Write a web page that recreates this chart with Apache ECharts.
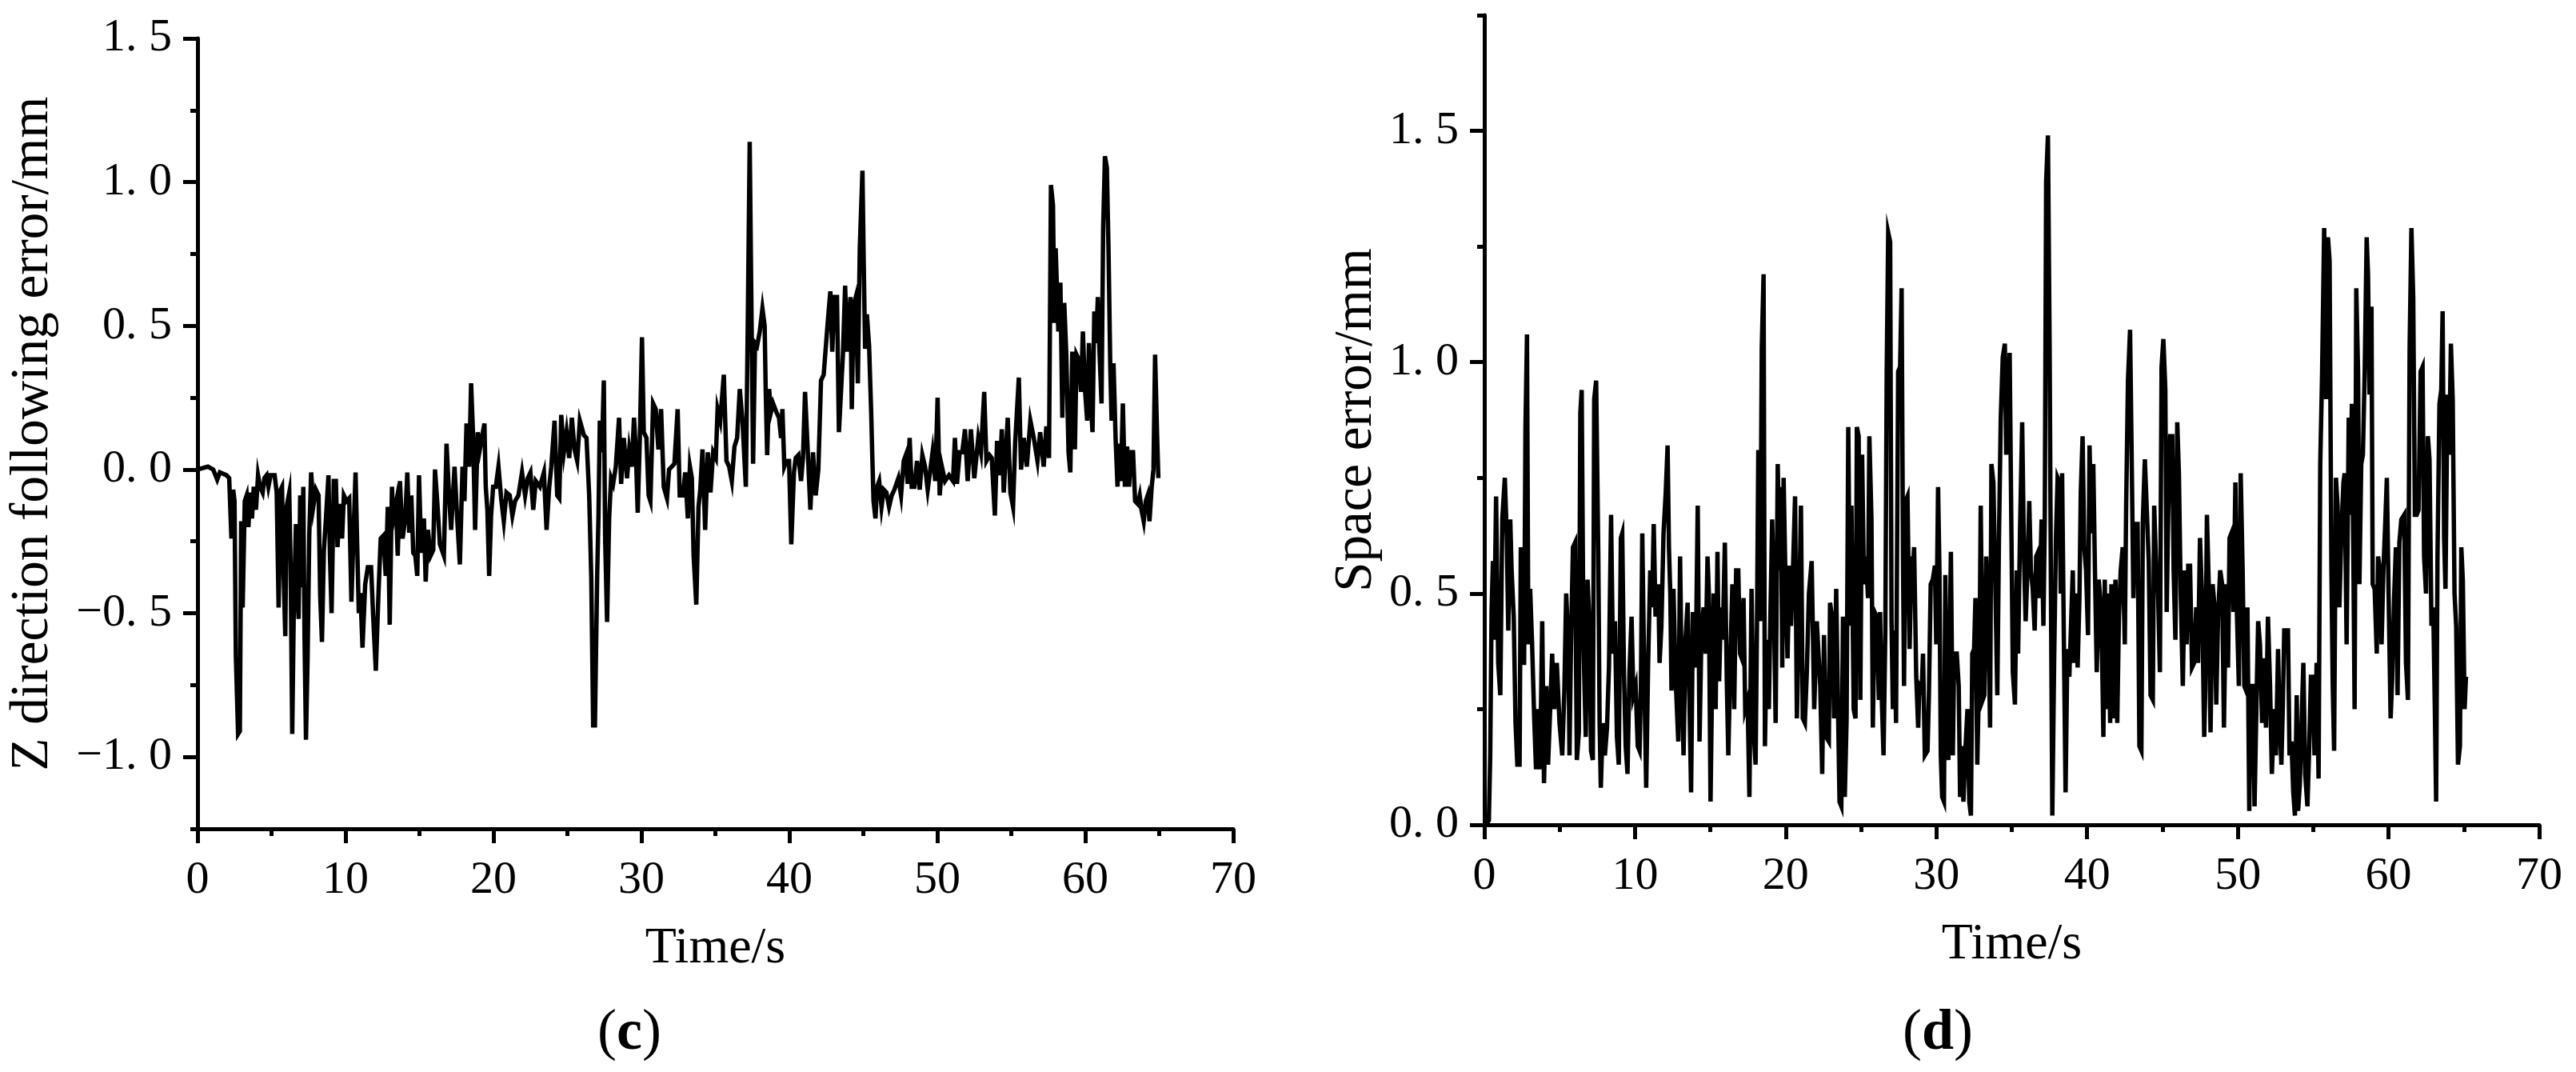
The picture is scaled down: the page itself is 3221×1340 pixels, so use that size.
<!DOCTYPE html>
<html><head><meta charset="utf-8">
<script src="https://cdn.jsdelivr.net/npm/echarts@6/dist/echarts.min.js"></script>
<style>html,body{margin:0;padding:0;background:#fff}#c{width:3221px;height:1340px}</style>
</head><body><div id="c"></div>
<script>
// ---- tick labels ----
const xTickValues = [0, 10, 20, 30, 40, 50, 60, 70];
const zTickValues = [-1.0, -0.5, 0, 0.5, 1.0, 1.5];
const sTickValues = [0, 0.5, 1.0, 1.5];
const zTitle = 'Z direction following error/mm';
const sTitle = 'Space error/mm';
const xTitle = 'Time/s';

// ---- (c) Z direction following error: [time s, error mm] ----
const zData = [
[0,0],[0.70,0.01],[1.06,0],[1.33,-0.035],[1.51,-0.01],[1.96,-0.02],[2.14,-0.03],[2.29,-0.24],[2.41,-0.07],[2.50,-0.11],
[2.59,-0.65],[2.74,-0.92],[2.86,-0.91],[2.95,-0.18],[3.05,-0.48],[3.19,-0.11],[3.32,-0.09],[3.44,-0.20],[3.55,-0.08],[3.68,-0.17],
[3.80,-0.06],[3.95,-0.14],[4.09,-0.02],[4.23,-0.06],[4.40,-0.08],[4.52,-0.03],[4.67,-0.02],[4.79,-0.06],[4.94,-0.02],[5.21,-0.02],
[5.35,-0.08],[5.48,-0.48],[5.62,-0.07],[5.71,-0.06],[5.80,-0.33],[5.93,-0.58],[6.02,-0.13],[6.20,-0.08],[6.29,-0.33],[6.40,-0.92],
[6.50,-0.51],[6.65,-0.19],[6.74,-0.41],[6.83,-0.52],[6.94,-0.09],[7.05,-0.41],[7.15,-0.06],[7.23,-0.58],[7.33,-0.94],[7.44,-0.65],
[7.55,-0.23],[7.68,-0.01],[7.82,-0.13],[8.00,-0.07],[8.18,-0.09],[8.29,-0.44],[8.41,-0.60],[8.54,-0.28],[8.68,-0.17],[8.85,-0.02],
[8.95,-0.30],[9.06,-0.50],[9.21,-0.04],[9.35,-0.04],[9.46,-0.27],[9.62,-0.12],[9.77,-0.24],[9.89,-0.09],[10.07,-0.11],[10.25,-0.10],
[10.40,-0.46],[10.54,-0.23],[10.68,-0.01],[10.79,-0.26],[10.90,-0.50],[11.01,-0.43],[11.15,-0.62],[11.33,-0.40],[11.51,-0.34],[11.73,-0.34],
[11.87,-0.51],[12.05,-0.70],[12.23,-0.43],[12.38,-0.24],[12.56,-0.23],[12.72,-0.37],[12.86,-0.13],[12.99,-0.54],[13.14,-0.06],[13.24,-0.17],
[13.41,-0.12],[13.53,-0.30],[13.68,-0.04],[13.86,-0.24],[14.04,-0.17],[14.18,-0.01],[14.31,-0.22],[14.45,-0.09],[14.58,-0.29],[14.72,-0.30],
[14.85,-0.37],[14.97,-0.02],[15.12,-0.29],[15.30,-0.17],[15.42,-0.39],[15.57,-0.21],[15.75,-0.30],[15.93,-0.28],[16.05,0],[16.20,-0.11],
[16.38,-0.26],[16.65,-0.30],[16.83,0.09],[17.01,-0.10],[17.14,-0.21],[17.37,0.01],[17.55,-0.17],[17.73,-0.33],[17.91,0.01],[18.04,-0.11],
[18.18,0.16],[18.36,0.01],[18.49,0.30],[18.63,0.11],[18.76,-0.21],[18.94,0.13],[19.08,0.07],[19.39,0.16],[19.48,-0.06],[19.59,-0.14],
[19.71,-0.37],[19.84,-0.16],[19.98,-0.06],[20.16,-0.06],[20.34,0.01],[20.52,-0.10],[20.70,-0.18],[20.88,-0.08],[21.10,-0.09],[21.28,-0.16],
[21.46,-0.11],[21.69,-0.09],[21.93,-0.01],
[22.14,-0.09],[22.32,-0.03],[22.50,-0.01],[22.69,-0.14],[22.86,-0.04],[23.14,-0.06],[23.41,-0.01],[23.59,-0.21],[23.77,-0.06],[23.91,0.01],
[24.13,0.17],[24.31,-0.09],[24.45,-0.10],[24.58,0.19],[24.76,0.06],[24.94,0.13],[25.12,0.04],[25.30,0.18],[25.48,0.07],[25.66,0.03],
[25.84,0.17],[26.11,0.12],[26.29,0.11],[26.47,-0.09],[26.61,-0.37],[26.74,-0.89],[26.86,-0.89],[27.01,-0.37],[27.10,-0.16],[27.19,0.17],
[27.33,0.06],[27.46,0.31],[27.55,-0.24],[27.68,-0.53],[27.82,-0.17],[27.95,-0.03],[28.09,-0.05],[28.27,0.01],[28.49,0.18],[28.63,-0.05],
[28.81,0.11],[29.03,-0.03],[29.18,0.07],[29.35,0.01],[29.50,0.18],[29.62,0.07],[29.75,-0.15],[29.89,0.10],[30.04,0.46],[30.16,0.13],
[30.34,0.11],[30.49,-0.09],[30.61,-0.11],[30.79,0.23],[30.97,0.21],[31.15,0.07],[31.33,0.21],[31.51,-0.06],[31.73,-0.10],[31.87,0],
[32.05,0.01],[32.23,0.02],[32.45,0.21],[32.59,-0.09],[32.81,-0.09],[32.96,-0.01],[33.14,-0.17],[33.28,0.01],[33.41,-0.03],[33.53,-0.30],
[33.71,-0.47],[33.86,-0.13],[33.98,-0.07],[34.13,0.07],[34.31,-0.21],[34.49,0.06],[34.67,-0.08],[34.85,0.06],[35.03,0.04],[35.15,0.21],
[35.33,0.17],[35.57,0.33],[35.75,0.03],[35.93,0.01],[36.11,-0.04],[36.29,0.08],[36.47,0.11],[36.65,0.28],[36.83,0.17],[37.06,-0.06],
[37.19,0.51],[37.32,1.14],[37.42,0.64],[37.55,0.02],[37.68,0.44],[37.82,0.43],[38.00,0.48],[38.18,0.56],[38.33,0.50],[38.40,0.28],
[38.50,0.05],[38.63,0.28],[38.76,0.20],[38.90,0.23],[39.12,0.20],[39.30,0.18],[39.44,0.11],[39.53,0.21],[39.66,0.01],[39.81,0.03],
[39.98,0.03],[40.13,-0.26],[40.31,-0.01],[40.43,0.04],[40.61,0.05],[40.79,-0.04],[40.92,0.04],[41.06,0.27],[41.24,0.07],[41.42,-0.14],
[41.60,0.06],[41.78,-0.09],[41.96,0],[42.14,0.31],[42.32,0.33],[42.59,0.51],[42.77,0.62],[42.90,0.41],[43.04,0.60],[43.22,0.60],
[43.35,0.13],[43.49,0.27],[43.62,0.40],[43.77,0.64],[43.91,0.41],[44.13,0.60],
[44.22,0.21],[44.34,0.57],[44.49,0.60],[44.63,0.30],[44.76,0.77],[44.94,1.04],[45.03,0.71],[45.12,0.42],[45.24,0.54],[45.39,0.43],
[45.53,0.20],[45.60,0.06],[45.69,-0.11],[45.82,-0.17],[45.93,-0.06],[46.07,-0.04],[46.23,-0.13],[46.38,-0.07],[46.56,-0.08],[46.74,-0.13],
[46.92,-0.09],[47.10,-0.07],[47.37,-0.03],[47.55,-0.09],[47.73,0.03],[47.87,0.05],[48.00,-0.05],[48.13,0.11],[48.27,-0.06],[48.45,-0.06],
[48.63,0.03],[48.81,-0.07],[48.99,0.05],[49.17,0.01],[49.35,-0.07],[49.53,0],[49.68,0.06],[49.86,-0.04],[50.02,0.25],[50.16,-0.09],
[50.31,0.01],[50.52,-0.04],[50.79,-0.02],[51.06,-0.04],[51.19,0.11],[51.33,-0.05],[51.51,0.06],[51.69,0.06],[51.87,0.14],[52.05,-0.04],
[52.27,0.14],[52.50,-0.03],[52.77,0.11],[52.95,0.06],[53.17,0.27],[53.32,0.03],[53.53,0.05],[53.68,0.04],[53.89,-0.16],[54.04,0.10],
[54.22,-0.02],[54.36,0.14],[54.49,-0.08],[54.76,0.18],[54.94,-0.08],[55.12,-0.13],[55.26,0.09],[55.51,0.32],[55.66,0],[55.84,0.11],
[56.05,0.01],[56.29,0.17],[56.52,0.11],[56.77,0.03],[56.95,0.13],[57.19,0.01],[57.37,0.15],[57.55,0.04],[57.68,0.99],[57.82,0.92],
[57.91,0.51],[58.00,0.77],[58.18,0.48],[58.32,0.65],[58.45,0.18],[58.58,0.58],[58.72,0.40],[58.87,0.06],[58.99,-0.01],[59.12,0.41],
[59.23,0.20],[59.30,0.07],[59.41,0.40],[59.59,0.38],[59.71,0.27],[59.84,0.48],[59.98,0.28],[60.13,0.17],[60.25,0.44],[60.38,0.23],
[60.49,0.13],[60.61,0.55],[60.74,0.44],[60.85,0.60],[60.97,0.40],[61.10,0.23],[61.21,0.84],[61.33,1.09],[61.46,1.05],[61.57,0.77],
[61.69,0.36],[61.78,0.17],[61.91,0.37],[62.05,0.11],[62.18,-0.06],[62.29,0.09],[62.41,-0.04],[62.54,0.23],[62.68,-0.06],[62.83,0.08],
[62.96,-0.06],[63.08,0.06],[63.23,0.06],[63.37,-0.11],[63.55,-0.12],[63.68,-0.09],[63.80,-0.14],[63.95,-0.18],[64.09,-0.11],[64.22,-0.09],
[64.34,-0.18],[64.49,-0.06],[64.61,0],[64.72,0.40],[64.85,0.13],[64.94,-0.03]
];

// ---- (d) Space error: [time s, error mm] ----
const sData = [
[0,0],[0.12,0],[0.30,0.01],[0.39,0.15],[0.48,0.46],[0.57,0.57],[0.65,0.40],[0.78,0.71],[0.92,0.35],[1.06,0.28],[1.19,0.66],
[1.36,0.75],[1.49,0.62],[1.59,0.42],[1.72,0.66],[1.81,0.55],[1.95,0.45],[2.07,0.22],[2.19,0.13],[2.34,0.13],[2.42,0.60],
[2.51,0.35],[2.64,0.35],[2.73,0.86],[2.83,1.06],[2.92,0.39],[3.04,0.51],[3.17,0.39],[3.31,0.23],[3.43,0.12],[3.58,0.25],
[3.70,0.12],[3.84,0.44],[3.96,0.09],[4.11,0.30],[4.23,0.13],[4.37,0.25],[4.50,0.37],[4.64,0.25],[4.81,0.35],[4.99,0.22],
[5.17,0.15],[5.31,0.29],[5.43,0.50],[5.58,0.39],[5.65,0.15],[5.75,0.39],[5.88,0.60],[6.02,0.61],[6.14,0.14],[6.27,0.20],
[6.37,0.89],[6.46,0.94],[6.58,0.39],[6.73,0.19],[6.85,0.53],[6.97,0.44],[7.08,0.16],[7.20,0.14],[7.29,0.92],[7.42,0.96],
[7.56,0.59],[7.65,0.22],[7.73,0.08],[7.86,0.22],[8.00,0.15],[8.14,0.21],[8.27,0.34],[8.41,0.67],[8.53,0.37],[8.67,0.44],
[8.80,0.19],[8.92,0.13],[9.06,0.62],[9.15,0.63],[9.27,0.32],[9.38,0.17],[9.50,0.11],[9.63,0.33],[9.77,0.45],[9.89,0.28],
[10.04,0.30],[10.18,0.17],[10.30,0.16],[10.39,0.30],[10.48,0.63],[10.60,0.35],[10.74,0.08],[10.87,0.35],[11.01,0.55],[11.13,0.47],
[11.24,0.65],[11.36,0.45],[11.54,0.52],[11.63,0.35],[11.75,0.43],[11.89,0.63],[12.04,0.72],[12.16,0.82],[12.25,0.60],[12.34,0.50],
[12.42,0.29],[12.55,0.51],[12.69,0.32],[12.87,0.18],[12.99,0.58],[13.10,0.31],[13.22,0.15],[13.35,0.40],[13.49,0.48],[13.61,0.27],
[13.72,0.07],[13.84,0.46],[13.96,0.34],[14.05,0.40],[14.16,0.69],[14.28,0.18],[14.41,0.42],[14.55,0.47],[14.69,0.37],[14.81,0.58],
[14.90,0.50],[15.01,0.05],[15.13,0.35],[15.22,0.50],[15.35,0.25],[15.47,0.59],[15.58,0.31],[15.70,0.47],[15.82,0.40],[15.96,0.61],
[16.09,0.31],[16.19,0.15],[16.32,0.35],[16.46,0.52],[16.58,0.25],[16.71,0.55],[16.85,0.55],[16.97,0.37],[17.08,0.36],[17.20,0.49],
[17.31,0.25],[17.47,0.27],[17.59,0.06],[17.73,0.51],[17.88,0.20],[18.00,0.13],[18.09,0.42],[18.18,0.81],[18.30,0.44],[18.41,1.03],
[18.53,1.19],[18.62,0.17],[18.74,0.40],[18.88,0.25],[18.97,0.43],[19.10,0.66],[19.19,0.53],[19.33,0.22],[19.47,0.78],[19.59,0.55],
[19.68,0.73],[19.77,0.34],[19.86,0.75],[20.00,0.50],[20.12,0.36],[20.25,0.56],[20.35,0.43],[20.48,0.55],[20.62,0.71],[20.74,0.23],
[20.88,0.44],[21.01,0.69],[21.13,0.23],[21.27,0.22],[21.40,0.33],[21.54,0.50],[21.72,0.57],[21.89,0.25],
[22.06,0.44],[22.29,0.30],[22.42,0.11],[22.54,0.41],[22.68,0.19],[22.86,0.18],[22.94,0.48],[23.07,0.45],[23.21,0.23],[23.35,0.51],
[23.48,0.23],[23.57,0.05],[23.69,0.04],[23.80,0.45],[23.92,0.06],[24.04,0.23],[24.15,0.86],[24.27,0.43],[24.36,0.69],[24.51,0.25],
[24.63,0.23],[24.72,0.86],[24.84,0.84],[24.95,0.27],[25.07,0.80],[25.19,0.52],[25.33,0.58],[25.46,0.49],[25.55,0.84],[25.69,0.66],
[25.78,0.21],[25.90,0.46],[26.04,0.45],[26.18,0.27],[26.26,0.46],[26.36,0.29],[26.49,0.15],[26.61,0.42],[26.70,0.98],[26.80,1.28],
[26.93,1.26],[27.02,0.44],[27.11,0.25],[27.23,0.42],[27.32,0.22],[27.46,0.98],[27.59,0.99],[27.69,1.16],[27.78,0.59],[27.85,0.30],
[27.96,0.70],[28.08,0.71],[28.22,0.38],[28.35,0.58],[28.43,0.55],[28.52,0.60],[28.66,0.32],[28.79,0.21],[28.87,0.30],[29.02,0.29],
[29.11,0.37],[29.23,0.15],[29.41,0.16],[29.50,0.28],[29.62,0.52],[29.76,0.53],[29.90,0.56],[29.99,0.39],[30.11,0.73],[30.20,0.55],
[30.29,0.15],[30.38,0.06],[30.50,0.05],[30.59,0.54],[30.68,0.25],[30.79,0.14],[30.87,0.37],[30.96,0.59],[31.09,0.15],[31.18,0.37],
[31.35,0.37],[31.48,0.30],[31.57,0.06],[31.67,0.17],[31.79,0.05],[31.92,0.16],[32.06,0.25],[32.18,0.05],[32.29,0.02],[32.38,0.37],
[32.50,0.38],[32.59,0.49],[32.71,0.13],[32.86,0.37],[32.94,0.69],[33.07,0.27],[33.18,0.28],[33.30,0.58],[33.42,0.50],[33.56,0.21],
[33.65,0.78],[33.78,0.74],[33.92,0.50],[34.04,0.28],[34.15,0.62],[34.27,0.88],[34.40,1.01],[34.54,1.04],[34.63,0.80],[34.71,0.88],
[34.86,1.02],[34.98,0.62],[35.07,0.33],[35.21,0.26],[35.33,0.55],[35.42,0.37],[35.55,0.64],[35.69,0.87],[35.81,0.58],[35.92,0.44],
[36.04,0.55],[36.16,0.70],[36.27,0.55],[36.39,0.51],[36.52,0.42],[36.62,0.58],[36.75,0.59],[36.84,0.49],[36.98,0.66],[37.10,0.43],
[37.19,0.66],[37.28,1.39],[37.40,1.49],[37.51,1.04],[37.60,0.50],[37.69,0.02],[37.81,0.35],[37.93,0.62],[38.04,0.75],[38.16,0.74],
[38.25,0.50],[38.34,0.76],[38.46,0.39],[38.57,0.07],[38.69,0.38],[38.82,0.32],[38.92,0.42],[39.05,0.55],[39.14,0.35],[39.28,0.50],
[39.37,0.34],[39.49,0.49],[39.58,0.72],[39.70,0.84],[39.81,0.60],[39.93,0.55],[40.06,0.41],[40.16,0.82],[40.29,0.63],[40.41,0.78],
[40.52,0.55],[40.64,0.33],[40.77,0.53],[40.87,0.49],[41.00,0.35],[41.08,0.19],[41.17,0.53],[41.30,0.25],[41.40,0.50],[41.53,0.22],
[41.61,0.52],[41.74,0.23],[41.88,0.53],[42.00,0.22],[42.11,0.45],[42.23,0.55],[42.36,0.60],[42.50,0.39],[42.59,0.69],[42.71,0.96],
[42.85,1.07],[42.94,0.84],[43.07,0.49],[43.17,0.65],
[43.35,0.65],[43.47,0.17],[43.60,0.16],[43.70,0.66],[43.83,0.79],[43.95,0.69],[44.09,0.57],[44.21,0.28],[44.36,0.27],[44.45,0.69],
[44.59,0.55],[44.71,0.50],[44.83,0.33],[44.94,0.99],[45.06,1.05],[45.19,0.94],[45.28,0.46],[45.38,0.67],[45.51,0.84],[45.65,0.84],
[45.74,0.55],[45.86,0.40],[45.98,0.87],[46.09,0.76],[46.21,0.50],[46.35,0.30],[46.48,0.55],[46.60,0.39],[46.71,0.56],[46.83,0.56],
[46.96,0.34],[47.10,0.35],[47.24,0.47],[47.36,0.35],[47.49,0.62],[47.63,0.49],[47.77,0.19],[47.84,0.29],[47.95,0.67],[48.07,0.52],
[48.19,0.20],[48.33,0.52],[48.46,0.47],[48.57,0.26],[48.69,0.45],[48.83,0.55],[48.96,0.52],[49.08,0.21],[49.22,0.52],[49.35,0.34],
[49.45,0.62],[49.57,0.63],[49.71,0.46],[49.84,0.74],[49.93,0.47],[50.07,0.30],[50.19,0.76],[50.32,0.55],[50.43,0.30],[50.55,0.29],
[50.64,0.47],[50.76,0.03],[50.85,0.30],[50.99,0.30],[51.11,0.04],[51.26,0.30],[51.35,0.44],[51.47,0.39],[51.61,0.22],[51.73,0.36],
[51.87,0.21],[52.00,0.45],[52.14,0.30],[52.26,0.11],[52.41,0.25],[52.53,0.15],[52.67,0.38],[52.76,0.24],[52.89,0.13],[52.99,0.26],
[53.08,0.42],[53.20,0.42],[53.33,0.42],[53.43,0.15],[53.56,0.18],[53.68,0.07],[53.79,0.02],[53.91,0.28],[54.00,0.03],[54.12,0.09],
[54.21,0.20],[54.35,0.35],[54.47,0.11],[54.62,0.04],[54.74,0.17],[54.85,0.32],[54.97,0.32],[55.09,0.15],[55.23,0.35],[55.36,0.10],
[55.47,0.78],[55.59,0.97],[55.73,1.29],[55.86,0.92],[55.98,1.27],[56.09,1.22],[56.21,0.55],[56.30,0.30],[56.39,0.16],[56.51,0.75],
[56.62,0.69],[56.74,0.47],[56.87,0.63],[57.01,0.74],[57.09,0.76],[57.22,0.39],[57.36,0.88],[57.45,0.67],[57.57,0.91],[57.68,0.53],
[57.75,0.25],[57.86,1.16],[57.98,0.98],[58.07,0.52],[58.19,0.78],[58.30,0.80],[58.42,0.98],[58.55,1.27],[58.64,1.19],[58.74,0.93],
[58.87,1.12],[58.95,0.52],[59.08,0.51],[59.22,0.37],[59.31,0.58],[59.43,0.55],[59.54,0.39],[59.66,0.55],[59.78,0.65],[59.89,0.75],
[60.01,0.49],[60.14,0.23],[60.24,0.31],[60.37,0.49],[60.49,0.60],[60.60,0.28],[60.72,0.61],[60.85,0.66],[60.95,0.66],[61.04,0.67],
[61.16,0.35],[61.29,0.27],[61.40,1.03],[61.52,1.29],[61.64,1.14],[61.75,0.67],[61.87,0.67],[61.99,0.68],[62.13,0.98],[62.26,0.99],
[62.36,0.58],[62.49,0.50],[62.61,0.84],[62.72,0.79],[62.85,0.43],[62.97,0.47],[63.07,0.26],[63.16,0.05],[63.25,0.58],[63.38,0.91],
[63.50,0.94],[63.59,1.11],[63.69,0.62],[63.78,0.51],[63.91,0.93],[64.03,0.80],[64.14,1.04],[64.26,0.92],[64.38,0.50],[64.49,0.43],
[64.61,0.13],[64.74,0.17],[64.83,0.60],[64.93,0.53],[65.05,0.25],[65.14,0.32]
];

const FONT = '"Liberation Serif","Times New Roman","DejaVu Serif",serif';
const BLACK = '#000';
const fmt = v => (v < 0 ? '\u2212' : '') + Math.abs(v).toFixed(1).replace('.', '. ');

function xAxisFor(gi) {
  return {
    type: 'value', gridIndex: gi, min: 0, max: 70, interval: 10,
    name: xTitle, nameLocation: 'middle', nameGap: 118,
    nameTextStyle: { fontFamily: FONT, fontSize: 64, color: BLACK },
    axisLine: { show: true, onZero: false, lineStyle: { color: BLACK, width: 5 } },
    axisTick: { show: true, inside: false, length: 18, lineStyle: { color: BLACK, width: 5 } },
    minorTick: { show: true, splitNumber: 2, length: 9, lineStyle: { color: BLACK, width: 5 } },
    axisLabel: { show: true, margin: 36, fontFamily: FONT, fontSize: 58, color: BLACK,
                 customValues: xTickValues },
    splitLine: { show: false }, minorSplitLine: { show: false }
  };
}
function yMain(gi, min, max, ticks, title, gap) {
  return {
    type: 'value', gridIndex: gi, min: min, max: max, interval: 0.25, position: 'left',
    name: title, nameLocation: 'middle', nameGap: gap,
    nameTextStyle: { fontFamily: FONT, fontSize: 67, color: BLACK },
    axisLine: { show: true, onZero: false, lineStyle: { color: BLACK, width: 5 } },
    axisTick: { show: true, inside: false, length: 18, customValues: ticks, lineStyle: { color: BLACK, width: 5 } },
    axisLabel: { show: true, margin: 32, fontFamily: FONT, fontSize: 58, color: BLACK,
                 customValues: ticks, formatter: fmt },
    splitLine: { show: false }
  };
}
function yMinor(gi, min, max) {
  return {
    type: 'value', gridIndex: gi, min: min, max: max, interval: 0.25, position: 'left',
    axisLine: { show: false, onZero: false },
    axisTick: { show: true, inside: false, length: 9, lineStyle: { color: BLACK, width: 5 } },
    axisLabel: { show: false }, splitLine: { show: false }
  };
}

const chart = echarts.init(document.getElementById('c'), null, { renderer: 'canvas' });
chart.setOption({
  backgroundColor: '#fff',
  animation: false,
  grid: [
    { left: 247, right: 1679, top: 48, bottom: 304 },
    { left: 1856, right: 46, top: 19, bottom: 309 }
  ],
  xAxis: [xAxisFor(0), xAxisFor(1)],
  yAxis: [
    yMain(0, -1.25, 1.5, zTickValues, zTitle, 172),
    yMinor(0, -1.25, 1.5),
    yMain(1, 0, 1.75, sTickValues, sTitle, 126),
    yMinor(1, 0, 1.75)
  ],
  series: [
    { type: 'line', xAxisIndex: 0, yAxisIndex: 0, data: zData, symbol: 'none', showSymbol: false,
      lineStyle: { color: BLACK, width: 5.5, join: 'miter' }, itemStyle: { color: BLACK }, clip: true },
    { type: 'line', xAxisIndex: 1, yAxisIndex: 2, data: sData, symbol: 'none', showSymbol: false,
      lineStyle: { color: BLACK, width: 5.5, join: 'miter' }, itemStyle: { color: BLACK }, clip: true }
  ],
  graphic: [
    { type: 'text', x: 787, y: 1292, style: { text: '{p|(}{b|c}{p|)}', align: 'center', verticalAlign: 'middle',
      rich: { p: { fontFamily: FONT, fontSize: 72, fill: BLACK }, b: { fontFamily: FONT, fontSize: 72, fontWeight: 'bold', fill: BLACK } } } },
    { type: 'text', x: 2423, y: 1292, style: { text: '{p|(}{b|d}{p|)}', align: 'center', verticalAlign: 'middle',
      rich: { p: { fontFamily: FONT, fontSize: 72, fill: BLACK }, b: { fontFamily: FONT, fontSize: 72, fontWeight: 'bold', fill: BLACK } } } }
  ]
});
</script></body></html>
